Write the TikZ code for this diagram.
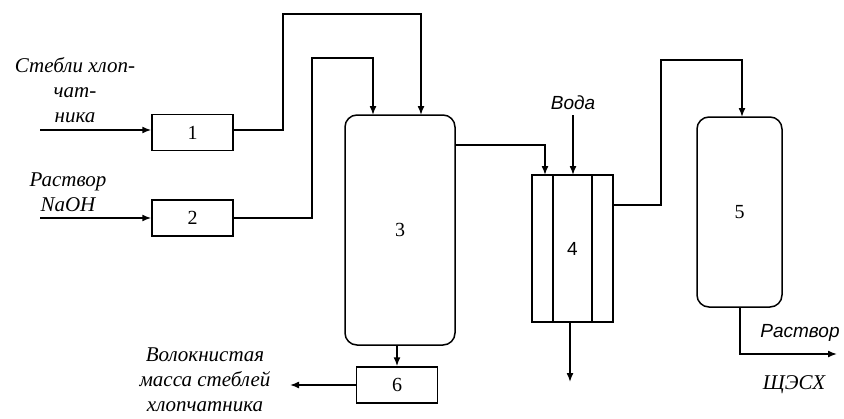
\documentclass[tikz,border=0pt]{standalone}
\usepackage{fontspec}
\setmainfont{Liberation Serif}
\newfontfamily\sansit{Liberation Sans}
\usetikzlibrary{arrows.meta}
\begin{document}
\begin{tikzpicture}[x=1pt,y=-1pt,
  line width=1.5pt,
  every node/.style={inner sep=0pt, font=\fontsize{20}{22}\selectfont},
  blk/.style={draw, minimum width=81pt, minimum height=36pt},
  tank/.style={draw, rounded corners=12pt},
  flow/.style={-{Latex[length=9pt,width=7pt]}},
  lbl/.style={font=\fontsize{21}{25}\selectfont\itshape, align=center},
  slbl/.style={font=\fontsize{19}{22}\selectfont\sansit\itshape, align=center}]
\useasboundingbox (0,0) rectangle (844,418);
% apparatus
\node[blk] (b1) at (192.5,132.5) {1};
\node[blk] (b2) at (192.5,218) {2};
\node[tank, minimum width=110pt, minimum height=230pt] (b3) at (400,230) {3};
\node[draw, minimum width=81pt, minimum height=147pt] (b4) at (572.5,248.5) {};
\node[font=\fontsize{19}{22}\selectfont\sansit] at (b4.center) {4};
\draw (553,175) -- (553,322) (592,175) -- (592,322);
\node[tank, minimum width=85pt, minimum height=190pt] (b5) at (739.5,212) {5};
\node[blk] (b6) at (397,385) {6};
% coordinates
\coordinate (in1) at (40,130);
\coordinate (in2) at (40,218);
\coordinate (w0) at (573,115);
\coordinate (out4) at (570,382);
\coordinate (out5) at (837,354);
\coordinate (out6) at (290,385);
% labels
\node[lbl, anchor=base] (t1) at (75,122) {Стебли хлоп-\\чат-\\ника};
\node[lbl, anchor=base] (t2) at (68,211) {Раствор\\NaOH};
\node[slbl, anchor=base] (tw) at (573,109) {Вода};
\node[slbl, anchor=base] (t5a) at (800,337) {Раствор};
\node[lbl, anchor=base] (t5b) at (794,389) {ЩЭСХ};
\node[lbl, anchor=base] (t6) at (205,411) {Волокнистая\\масса стеблей\\хлопчатника};
% flows
\draw[flow] (in1) -- (b1.west |- in1);
\draw[flow] (in2) -- (b2.west);
\draw[flow] (b1.east |- in1) -- (283,130) -- (283,14) -- (421,14) -- (421,115);
\draw[flow] (b2.east) -- (312,218) -- (312,58) -- (373,58) -- (373,115);
\draw[flow] (455,145) -- (545,145) -- (545,175);
\draw[flow] (w0) -- (573,175);
\draw[flow] (570,322) -- (out4);
\draw[flow] (613,205) -- (661,205) -- (661,60) -- (742,60) -- (742,117);
\draw[flow] (740,307) -- (740,354) -- (out5);
\draw[flow] (397,345) -- (b6.north);
\draw[flow] (b6.west) -- (out6);
\end{tikzpicture}
\end{document}
